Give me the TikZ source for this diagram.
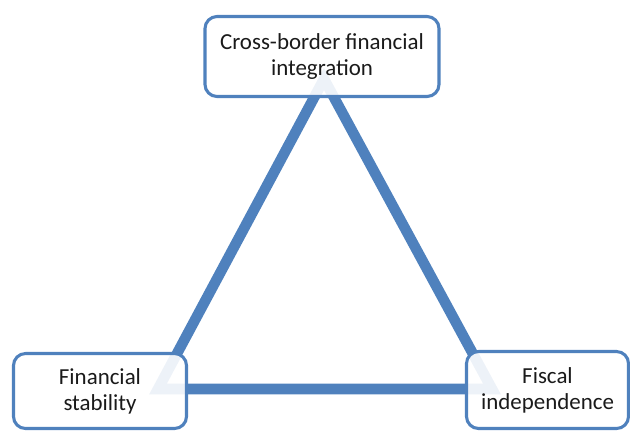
\documentclass[tikz,border=0pt]{standalone}
\usepackage{fontspec}
\setmainfont{Carlito}
\usepackage{xcolor}
\usepackage{tikz}
\definecolor{TRBlue}{HTML}{4F81BD}
\definecolor{TRText}{HTML}{1A1A1A}

\begin{document}
\begin{tikzpicture}[x=0.75pt,y=-0.75pt,
  trbox/.style={draw=TRBlue,line width=2.3pt,fill=white,fill opacity=0.9,text opacity=1,
    rounded corners=9pt,align=center,text=TRText,inner sep=0pt,
    font=\fontsize{17.2}{19.6}\selectfont},
  trside/.style={draw=TRBlue,line width=7.9pt}]
\path[use as bounding box] (0,0) rectangle (630,430);
% corners of the triangle, under the boxes
\coordinate (apex) at (324,79);
\coordinate (lft) at (158,389);
\coordinate (rgt) at (492,389);
\draw[trside] (apex) -- (lft) -- (rgt) -- cycle;
% the three boxes
\node[trbox,minimum width=175.5pt,minimum height=60pt] (integration) at (322,56.5) {Cross-border financial\\integration};
\node[trbox,minimum width=129.75pt,minimum height=56.25pt] (stability) at (100,391) {Financial\\stability};
\node[trbox,minimum width=121.5pt,minimum height=57.75pt] (fiscal) at (547.5,390) {Fiscal\\independence};
\end{tikzpicture}
\end{document}
